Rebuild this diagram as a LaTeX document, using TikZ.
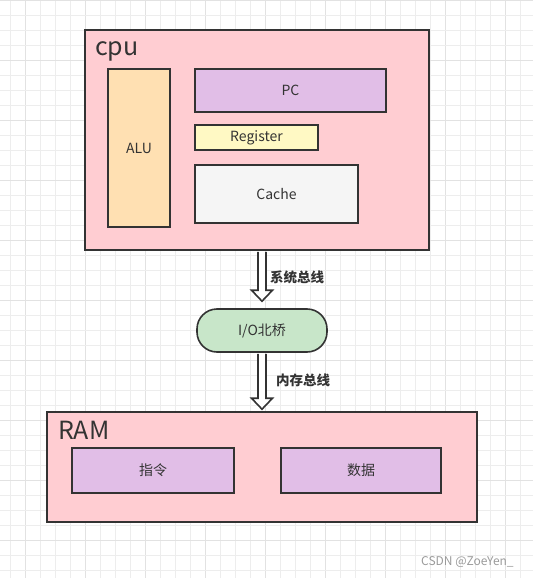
\documentclass[tikz,border=0pt]{standalone}
\usepackage{fontspec}
\setmainfont{Noto Sans CJK SC}
\usetikzlibrary{calc}
\definecolor{pinkc}{HTML}{FFCDD2}
\definecolor{purplec}{HTML}{E1BEE7}
\definecolor{yellowc}{HTML}{FFF9C4}
\definecolor{greyc}{HTML}{F5F5F5}
\definecolor{orangec}{HTML}{FFE0B2}
\definecolor{greenc}{HTML}{C8E6C9}
\definecolor{linec}{HTML}{333333}
\definecolor{gridc}{HTML}{EDEDED}
\definecolor{gridm}{HTML}{E2E2E2}
\definecolor{wmark}{HTML}{9A9A9A}
\tikzset{
  box/.style={draw=linec, line width=1.6pt, inner sep=0pt, text=linec,
    font=\fontsize{14}{16}\selectfont},
  big/.style={text=linec, inner sep=0pt, font=\fontsize{25}{28}\selectfont},
  barrow/.style={draw=linec, fill=white, line width=1.6pt, line join=miter},
  blabel/.style={text=linec, inner sep=0pt, font=\fontsize{13.5}{16}\selectfont\bfseries},
}
\begin{document}
\begin{tikzpicture}[x=1pt, y=-1pt]
\useasboundingbox (0,0) rectangle (533,578);
% grid
\foreach \k in {0,...,35} {
  \pgfmathsetmacro{\xx}{10.5+15*\k}
  \pgfmathtruncatemacro{\m}{mod(\k,4)}
  \ifnum\m=1 \draw[gridm, line width=1pt] (\xx,0) -- (\xx,578);
  \else \draw[gridc, line width=1pt] (\xx,0) -- (\xx,578); \fi
}
\foreach \k in {0,...,38} {
  \pgfmathsetmacro{\yy}{0.7+15*\k}
  \pgfmathtruncatemacro{\m}{mod(\k,4)}
  \ifnum\m=0 \draw[gridm, line width=1pt] (0,\yy) -- (533,\yy);
  \else \draw[gridc, line width=1pt] (0,\yy) -- (533,\yy); \fi
}
% CPU
\node[box, fill=pinkc, minimum width=344pt, minimum height=220pt] (cpu) at (257,140) {};
\node[big, anchor=base west] (cpulbl) at (95,56) {cpu};
\node[box, fill=orangec, minimum width=62pt, minimum height=158pt] (alu) at (139,148) {ALU};
\node[box, fill=purplec, minimum width=191pt, minimum height=43pt] (pc) at (290.5,90.5) {PC};
\node[box, fill=yellowc, minimum width=123pt, minimum height=25pt] (reg) at (256.5,137.5) {Register};
\node[box, fill=greyc, minimum width=163pt, minimum height=58pt] (cache) at (276.5,194) {Cache};
% IO bridge
\node[box, fill=greenc, rounded corners=20pt, minimum width=130pt, minimum height=43pt] (io) at (262,330.5) {I/O北桥};
% RAM
\node[box, fill=pinkc, minimum width=430pt, minimum height=110pt] (ram) at (262,467) {};
\node[big, anchor=base west] (ramlbl) at (58,439) {RAM};
\node[box, fill=purplec, minimum width=162pt, minimum height=45pt] (instr) at (153,470.5) {指令};
\node[box, fill=purplec, minimum width=160pt, minimum height=45pt] (data) at (361,470.5) {数据};
% arrows
\coordinate (a1s) at ($(io.north |- cpu.south)+(0,1)$);
\coordinate (a1t) at ($(io.north)+(0,-7)$);
\draw[barrow] ($(a1s)+(-4,0)$) -- ($(a1t)+(-4,-11)$) -- ($(a1t)+(-10.5,-11)$) -- (a1t)
  -- ($(a1t)+(10.5,-11)$) -- ($(a1t)+(4,-11)$) -- ($(a1s)+(4,0)$);
\coordinate (a2s) at ($(io.south)+(0,1)$);
\coordinate (a2t) at ($(ram.north -| io.south)+(0,-2)$);
\draw[barrow] ($(a2s)+(-4,0)$) -- ($(a2t)+(-4,-11)$) -- ($(a2t)+(-10.5,-11)$) -- (a2t)
  -- ($(a2t)+(10.5,-11)$) -- ($(a2t)+(4,-11)$) -- ($(a2s)+(4,0)$);
\node[blabel, anchor=west] (l1) at (270,277) {系统总线};
\node[blabel, anchor=west] (l2) at (276,380) {内存总线};
% watermark
\node[anchor=west, inner sep=0pt, text=wmark, font=\fontsize{12}{14}\selectfont] (wm) at (421,562) {CSDN @ZoeYen\_};
\end{tikzpicture}
\end{document}
